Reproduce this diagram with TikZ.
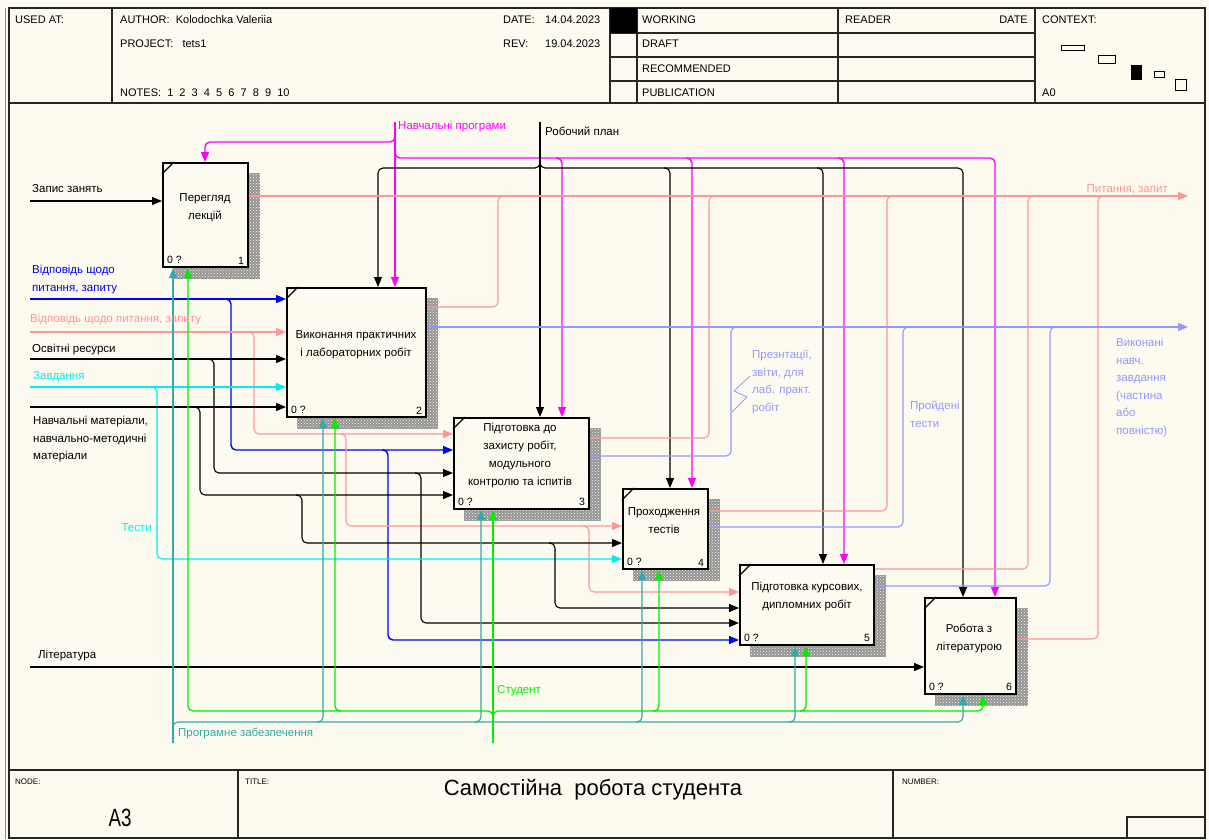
\documentclass[tikz,border=0pt]{standalone}
\usepackage{fontspec}
\setmainfont{Liberation Sans}
\usepackage{graphicx}
\usetikzlibrary{arrows.meta,patterns}
\definecolor{bg}{RGB}{253,250,240}
\definecolor{cpink}{RGB}{255,150,150}
\definecolor{clav}{RGB}{150,150,255}
\definecolor{cblue}{RGB}{0,0,255}
\definecolor{ccyan}{RGB}{0,238,238}
\definecolor{cmag}{RGB}{255,0,255}
\definecolor{cgreen}{RGB}{0,238,0}
\definecolor{cteal}{RGB}{50,170,170}
\pgfdeclarelayer{back}
\pgfdeclarelayer{shade}
\pgfsetlayers{back,shade,main}
\begin{document}
\begin{tikzpicture}[x=1pt,y=-1pt,
  lab/.style={font=\fontsize{11.5}{17.5}\selectfont, inner sep=0pt, anchor=west},
  hdr/.style={font=\fontsize{11}{13}\selectfont, inner sep=0pt, anchor=west},
  tiny/.style={font=\fontsize{8}{10}\selectfont, inner sep=0pt, anchor=west},
  box/.style={draw, line width=2.2pt, fill=bg, anchor=north west, inner sep=0pt},
  btext/.style={font=\fontsize{11.5}{18}\selectfont, align=center, inner sep=0pt},
  corner/.style={font=\fontsize{10.5}{12}\selectfont, inner sep=0pt},
  con/.style={line width=1.1pt, rounded corners=5pt},
  arr/.style={-{Triangle[length=10pt,width=8pt]}},
  frm/.style={line width=1.2pt, draw=black!85},
]
\useasboundingbox (0,0) rectangle (1209,839);
\begin{pgfonlayer}{back}
\fill[bg] (0,0) rectangle (1209,839);
\end{pgfonlayer}

% ---------- frame ----------
\draw[black!45, line width=1pt] (5,8) -- (5,839);
\draw[frm] (9,8) rectangle (1205,838);
\draw[frm] (9,103) -- (1205,103);
\draw[frm] (9,770) -- (1205,770);
\draw[frm] (112,8) -- (112,103);
\draw[frm] (610,8) -- (610,103);
\draw[frm] (637,8) -- (637,103);
\draw[frm] (838,8) -- (838,103);
\draw[frm] (1035,8) -- (1035,103);
\draw[frm] (610,33) -- (1035,33);
\draw[frm] (610,57) -- (1035,57);
\draw[frm] (610,81) -- (1035,81);
\fill (610,8) rectangle (637,33);
\draw[frm] (238,770) -- (238,838);
\draw[frm] (893,770) -- (893,838);
\draw[frm] (1127,838) -- (1127,817) -- (1205,817);

% context thumbnails
\draw[line width=0.8pt] (1061,45) rectangle (1084,50);
\draw[line width=0.8pt] (1098,55) rectangle (1115,63);
\fill (1131,65) rectangle (1142,80);
\draw[line width=0.8pt] (1154,71) rectangle (1164,77);
\draw[line width=0.8pt] (1175,79) rectangle (1186,90);

% header text
\node[hdr] (h1) at (15,20) {USED AT:};
\node[hdr] (h2) at (120,20) {AUTHOR:\ \ Kolodochka Valeriia};
\node[hdr] (h3) at (120,44) {PROJECT:\ \ \ tets1};
\node[hdr] (h4) at (120,93) {NOTES:\ \ 1\ \ 2\ \ 3\ \ 4\ \ 5\ \ 6\ \ 7\ \ 8\ \ 9\ \ 10};
\node[hdr] (h5) at (503,20) {DATE:};
\node[hdr] (h6) at (545,20) {14.04.2023};
\node[hdr] (h7) at (503,44) {REV:};
\node[hdr] (h8) at (545,44) {19.04.2023};
\node[hdr] (h9) at (642,20) {WORKING};
\node[hdr] (h10) at (642,44) {DRAFT};
\node[hdr] (h11) at (642,69) {RECOMMENDED};
\node[hdr] (h12) at (642,93) {PUBLICATION};
\node[hdr] (h13) at (845,20) {READER};
\node[hdr,anchor=east] (h14) at (1028,20) {DATE};
\node[hdr] (h15) at (1042,20) {CONTEXT:};
\node[hdr] (h16) at (1042,93) {A0};

% footer text
\node[tiny] (f1) at (15,782) {NODE:};
\node[font=\fontsize{25}{28}\selectfont, inner sep=0pt] (f2) at (120,818) {\scalebox{0.75}[1]{A3}};
\node[tiny] (f3) at (245,782) {TITLE:};
\node[font=\fontsize{22}{26}\selectfont, inner sep=0pt] (f4) at (593,790) {Самостійна\ \ робота студента};
\node[tiny] (f5) at (902,782) {NUMBER:};

% ---------- boxes ----------
\node[box, minimum width=85pt, minimum height=104pt] (b1) at (162,162) {};
\node[box, minimum width=139pt, minimum height=129pt] (b2) at (286,287) {};
\node[box, minimum width=135pt, minimum height=91pt] (b3) at (453,417) {};
\node[box, minimum width=85pt, minimum height=80pt] (b4) at (622,488) {};
\node[box, minimum width=134pt, minimum height=80pt] (b5) at (739,564) {};
\node[box, minimum width=91pt, minimum height=96pt] (b6) at (924,597) {};

\begin{pgfonlayer}{shade}
\foreach \bx in {b1,b2,b3,b4,b5,b6}{
  \fill[black!42]
    ([shift={(11pt,-11pt)}]\bx.south west) rectangle ([shift={(11pt,-11pt)}]\bx.north east);
  \fill[pattern=crosshatch dots, pattern color=bg]
    ([shift={(11pt,-11pt)}]\bx.south west) rectangle ([shift={(11pt,-11pt)}]\bx.north east);
}
\end{pgfonlayer}

\foreach \bx/\n in {b1/1,b2/2,b3/3,b4/4,b5/5,b6/6}{
  \draw[line width=1.2pt] ([yshift=-12pt]\bx.north west) -- ([xshift=12pt]\bx.north west);
  \node[corner, anchor=south west] at ([shift={(5pt,4pt)}]\bx.south west) {0 ?};
  \node[corner, anchor=south east] at ([shift={(-5pt,4pt)}]\bx.south east) {\n};
}

\node[btext] (t1) at (205,208) {Перегляд\\лекцій};
\node[btext] (t2) at (356,345) {Виконання практичних\\і лабораторних робіт};
\node[btext] (t3) at (520,456) {Підготовка до\\захисту робіт,\\модульного\\контролю та іспитів};
\node[btext] (t4) at (664,521) {Проходження\\тестів};
\node[btext] (t5) at (807,597) {Підготовка курсових,\\дипломних робіт};
\node[btext] (t6) at (969,638) {Робота з\\літературою};

% ---------- free ends ----------
\coordinate (i1) at (30,201);
\coordinate (i2) at (30,299);
\coordinate (i3) at (30,332);
\coordinate (i4) at (30,359);
\coordinate (i5) at (30,387);
\coordinate (i6) at (30,407);
\coordinate (i7) at (30,667);
\coordinate (c1) at (395,122);
\coordinate (c2) at (540,122);
\coordinate (o1) at (1188,196);
\coordinate (o2) at (1188,327);
\coordinate (m1) at (493,743);
\coordinate (m2) at (173,743);

% ---------- inputs ----------
\draw[con,arr] (i1) -- (b1.west |- i1);
\draw[con,arr,cblue,line width=1.4pt] (i2) -- (b2.west |- i2);
\draw[con,arr,cblue,line width=1.4pt] (225,299) -- (231,299) -- (231,450) -- (b3.west |- 0,450);
\draw[con,arr,cblue,line width=1.4pt] (382,450) -- (388,450) -- (388,640) -- (b5.west |- 0,640);

\draw[con,arr,cpink] (i3) -- (b2.west |- i3);
\draw[con,arr,cpink] (248,332) -- (254,332) -- (254,434) -- (b3.west |- 0,434);
\draw[con,arr,cpink] (340,434) -- (346,434) -- (346,526) -- (b4.west |- 0,526);
\draw[con,arr,cpink] (583,526) -- (589,526) -- (589,592) -- (b5.west |- 0,592);

\draw[con,arr] (i4) -- (b2.west |- i4);
\draw[con,arr] (208,359) -- (214,359) -- (214,473) -- (b3.west |- 0,473);
\draw[con,arr] (415,473) -- (421,473) -- (421,623) -- (b5.west |- 0,623);

\draw[con,arr,ccyan] (i5) -- (b2.west |- i5);
\draw[con,arr,ccyan] (151,387) -- (157,387) -- (157,559) -- (b4.west |- 0,559);

\draw[con,arr] (i6) -- (b2.west |- i6);
\draw[con,arr] (194,407) -- (200,407) -- (200,495) -- (b3.west |- 0,495);
\draw[con,arr] (296,495) -- (302,495) -- (302,543) -- (b4.west |- 0,543);
\draw[con,arr] (549,543) -- (555,543) -- (555,608) -- (b5.west |- 0,608);

\draw[con,arr] (i7) -- (b6.west |- i7);

% ---------- controls ----------
\draw[con,arr,cmag,line width=1.4pt] (c1) -- (c1 |- b2.north);
\draw[con,arr,cmag,line width=1.4pt] (395,134) -- (395,142) -- (205,142) -- (205,0 |- b1.north);
\draw[con,arr,cmag,line width=1.4pt] (395,150) -- (395,158) -- (995,158) -- (995,0 |- b6.north);
\draw[con,arr,cmag,line width=1.4pt] (556,158) -- (562,158) -- (562,0 |- b3.north);
\draw[con,arr,cmag,line width=1.4pt] (686,158) -- (692,158) -- (692,0 |- b4.north);
\draw[con,arr,cmag,line width=1.4pt] (838,158) -- (844,158) -- (844,0 |- b5.north);

\draw[con,arr] (c2) -- (c2 |- b3.north);
\draw[con,arr] (540,161) -- (540,168) -- (378,168) -- (378,0 |- b2.north);
\draw[con,arr] (540,161) -- (540,168) -- (963,168) -- (963,0 |- b6.north);
\draw[con,arr] (664,168) -- (670,168) -- (670,0 |- b4.north);
\draw[con,arr] (817,168) -- (823,168) -- (823,0 |- b5.north);

% ---------- outputs ----------
\draw[con,arr,cpink] (b1.east |- o1) -- (o1);
\draw[con,cpink] (b2.east |- 0,307) -- (498,307) -- (498,196) -- (504,196);
\draw[con,cpink] (b3.east |- 0,438) -- (709,438) -- (709,196) -- (715,196);
\draw[con,cpink] (b4.east |- 0,511) -- (887,511) -- (887,196) -- (893,196);
\draw[con,cpink] (b5.east |- 0,569) -- (1028,569) -- (1028,196) -- (1034,196);
\draw[con,cpink] (b6.east |- 0,639) -- (1098,639) -- (1098,196) -- (1104,196);

\draw[con,arr,clav] (b2.east |- o2) -- (o2);
\draw[con,clav] (b3.east |- 0,456) -- (731,456) -- (731,327) -- (737,327);
\draw[con,clav] (b4.east |- 0,527) -- (903,527) -- (903,327) -- (909,327);
\draw[con,clav] (b5.east |- 0,586) -- (1050,586) -- (1050,327) -- (1056,327);
\draw[clav, line width=0.8pt] (750,376) -- (734,391) -- (747,397) -- (732,412);

% ---------- mechanisms ----------
\draw[con,arr,cgreen,line width=1.3pt] (m1) -- (m1 |- b3.south);
\draw[con,arr,cgreen,line width=1.3pt] (493,717) -- (493,711) -- (188,711) -- (188,0 |- b1.south);
\draw[con,arr,cgreen,line width=1.3pt] (341,711) -- (335,711) -- (335,0 |- b2.south);
\draw[con,arr,cgreen,line width=1.3pt] (493,717) -- (493,711) -- (983,711) -- (983,0 |- b6.south);
\draw[con,arr,cgreen,line width=1.3pt] (653,711) -- (659,711) -- (659,0 |- b4.south);
\draw[con,arr,cgreen,line width=1.3pt] (800,711) -- (806,711) -- (806,0 |- b5.south);

\draw[con,arr,cteal] (m2) -- (m2 |- b1.south);
\draw[con,arr,cteal] (173,728) -- (173,722) -- (963,722) -- (963,0 |- b6.south);
\draw[con,arr,cteal] (317,722) -- (323,722) -- (323,0 |- b2.south);
\draw[con,arr,cteal] (475,722) -- (481,722) -- (481,0 |- b3.south);
\draw[con,arr,cteal] (636,722) -- (642,722) -- (642,0 |- b4.south);
\draw[con,arr,cteal] (789,722) -- (795,722) -- (795,0 |- b5.south);

% ---------- labels ----------
\node[lab] (l1) at (32,189) {Запис занять};
\node[lab, text=cblue, anchor=north west, align=left] (l2) at (32,265) {Відповідь щодо\\питання, запиту};
\node[lab, text=cpink] (l3) at (30,320) {Відповідь щодо питання, запиту};
\node[lab] (l4) at (32,350) {Освітні ресурси};
\node[lab, text=ccyan] (l5) at (33,377) {Завдання};
\node[lab, anchor=north west, align=left] (l6) at (33,416) {Навчальні матеріали,\\навчально-методичні\\матеріали};
\node[lab] (l7) at (38,656) {Література};
\node[lab, text=cmag] (l8) at (398,127) {Навчальні програми};
\node[lab] (l9) at (545,131) {Робочий план};
\node[lab, text=cpink, anchor=east] (l10) at (1168,189) {Питання, запит};
\node[lab, text=clav, anchor=north west, align=left] (l11) at (1116,338) {Виконані\\навч.\\завдання\\(частина\\або\\повністю)};
\node[lab, text=clav, anchor=north west, align=left] (l12) at (752,350) {Презнтації,\\звіти, для\\лаб. практ.\\робіт};
\node[lab, text=clav, anchor=north west, align=left] (l13) at (910,401) {Пройдені\\тести};
\node[lab, text=ccyan, anchor=east] (l14) at (152,528) {Тести};
\node[lab, text=cgreen] (l15) at (497,691) {Студент};
\node[lab, text=cteal] (l16) at (178,733) {Програмне забезпечення};
\end{tikzpicture}
\end{document}
